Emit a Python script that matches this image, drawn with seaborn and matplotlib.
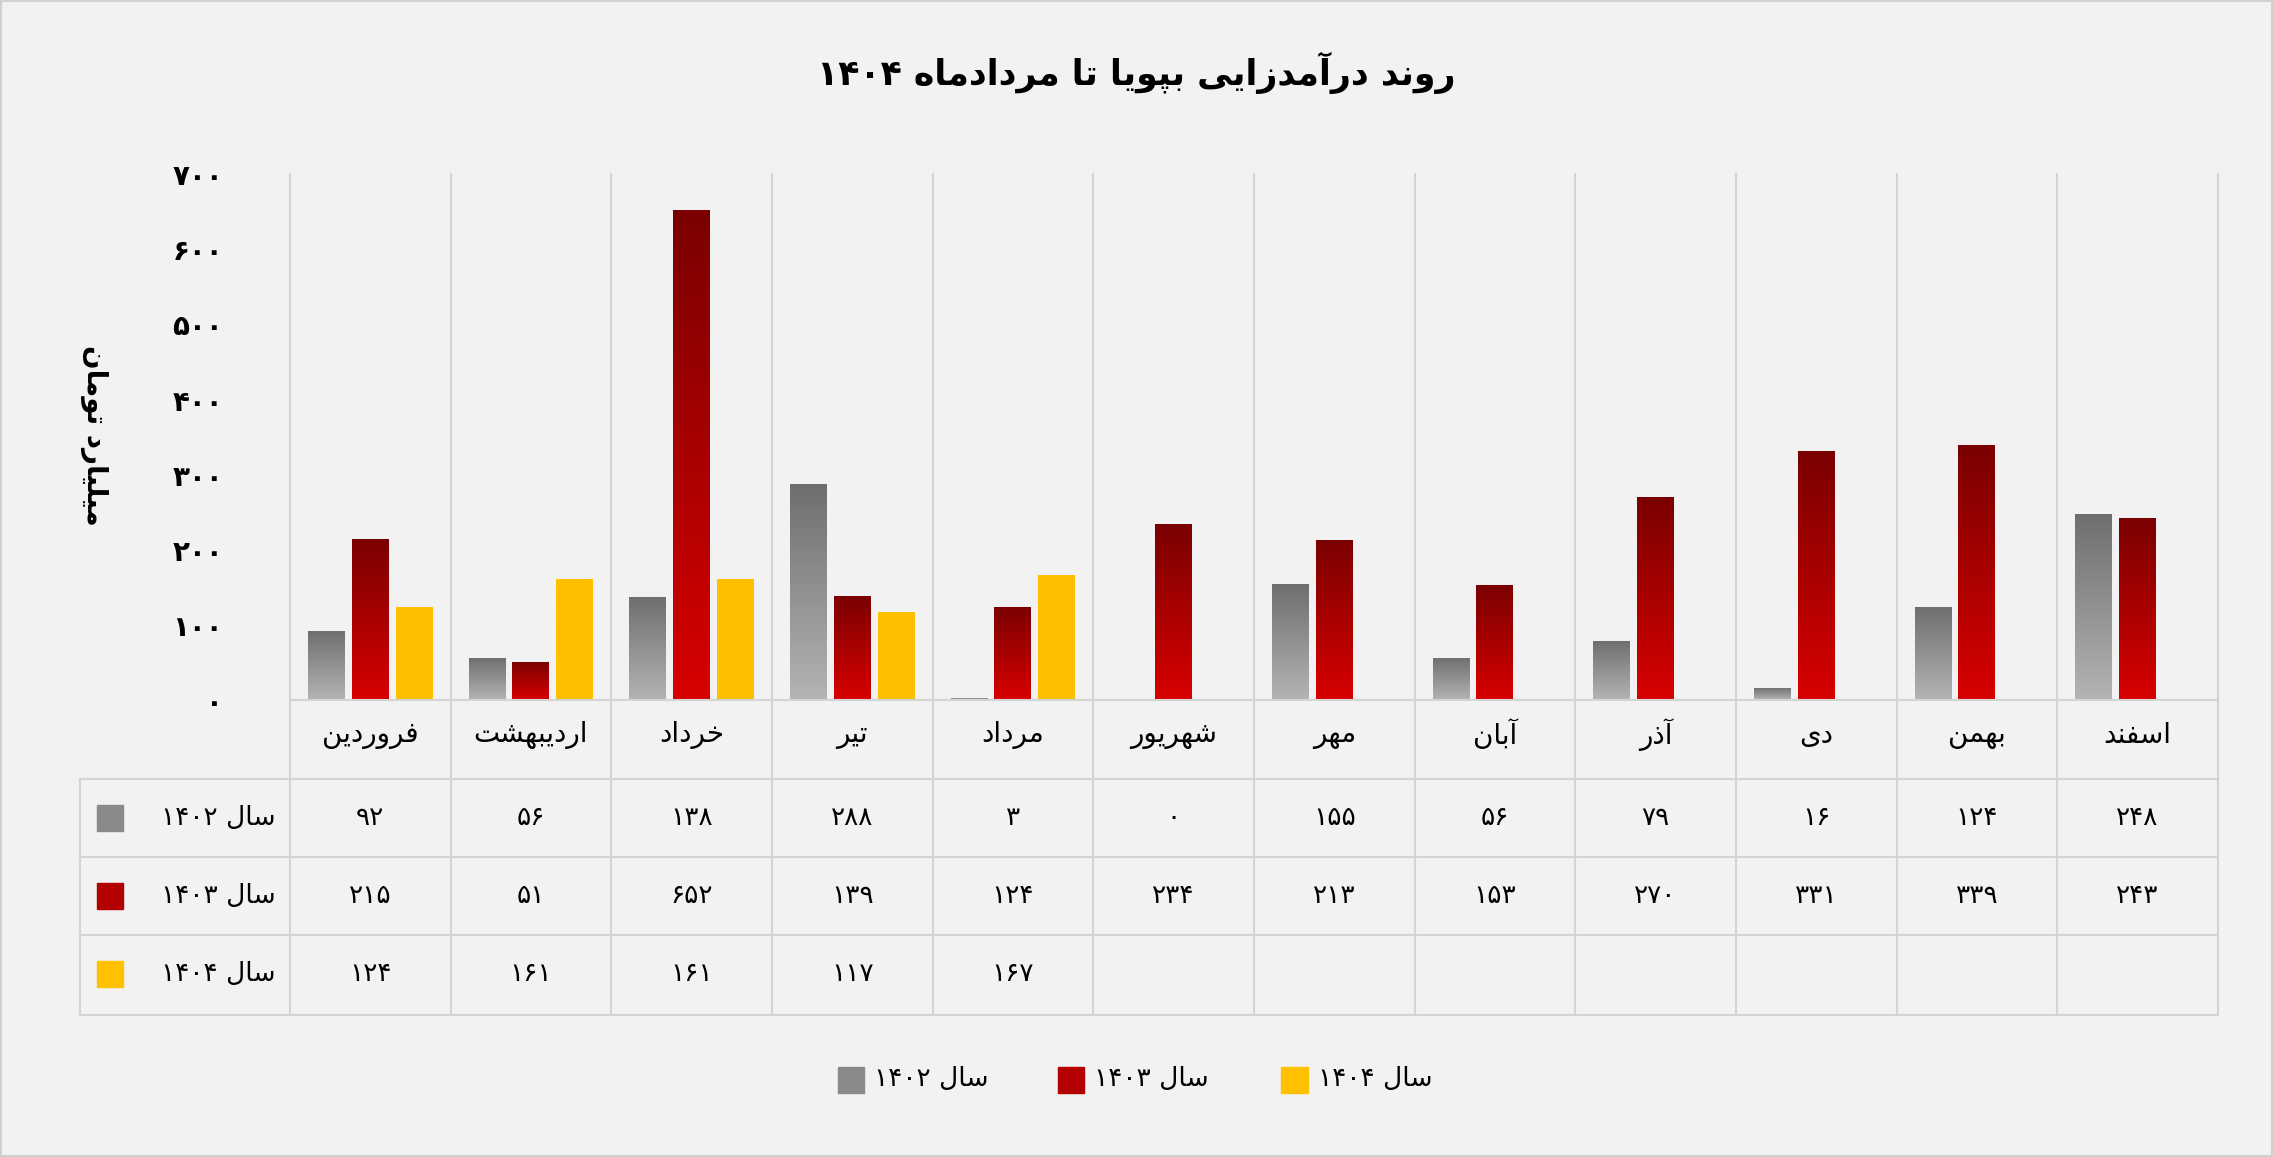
import numpy as np
import pandas as pd
import seaborn as sns
import matplotlib.pyplot as plt
from matplotlib.colors import LinearSegmentedColormap

# -------------------------------
# DATA
# -------------------------------
months = ["فروردین", "اردیبهشت", "خرداد", "تیر", "مرداد", "شهریور",
          "مهر", "آبان", "آذر", "دی", "بهمن", "اسفند"]
series = ["سال ۱۴۰۲", "سال ۱۴۰۳", "سال ۱۴۰۴"]
v1402 = [92, 56, 138, 288, 3, 0, 155, 56, 79, 16, 124, 248]
v1403 = [215, 51, 652, 139, 124, 234, 213, 153, 270, 331, 339, 243]
v1404 = [124, 161, 161, 117, 167, None, None, None, None, None, None, None]
yticks = [0, 100, 200, 300, 400, 500, 600, 700]
colors = ["#8a8a8a", "#b30000", "#ffc000"]
grads = [("#6e6e6e", "#b4b4b4"), ("#7a0000", "#d80000"), ("#ffc000", "#ffc000")]
title = "روند درآمدزایی بپویا تا مردادماه ۱۴۰۴"
ylabel = "میلیارد تومان"

# -------------------------------
# minimal arabic/persian shaping (no reshaper lib available)
# -------------------------------
FORMS = {
    "ا": ("\uFE8D", "\uFE8E", None, None), "آ": ("\uFE81", "\uFE82", None, None),
    "ب": ("\uFE8F", "\uFE90", "\uFE91", "\uFE92"), "پ": ("\uFB56", "\uFB57", "\uFB58", "\uFB59"),
    "ت": ("\uFE95", "\uFE96", "\uFE97", "\uFE98"), "ث": ("\uFE99", "\uFE9A", "\uFE9B", "\uFE9C"),
    "ج": ("\uFE9D", "\uFE9E", "\uFE9F", "\uFEA0"), "چ": ("\uFB7A", "\uFB7B", "\uFB7C", "\uFB7D"),
    "ح": ("\uFEA1", "\uFEA2", "\uFEA3", "\uFEA4"), "خ": ("\uFEA5", "\uFEA6", "\uFEA7", "\uFEA8"),
    "د": ("\uFEA9", "\uFEAA", None, None), "ذ": ("\uFEAB", "\uFEAC", None, None),
    "ر": ("\uFEAD", "\uFEAE", None, None), "ز": ("\uFEAF", "\uFEB0", None, None),
    "ژ": ("\uFB8A", "\uFB8B", None, None),
    "س": ("\uFEB1", "\uFEB2", "\uFEB3", "\uFEB4"), "ش": ("\uFEB5", "\uFEB6", "\uFEB7", "\uFEB8"),
    "ص": ("\uFEB9", "\uFEBA", "\uFEBB", "\uFEBC"), "ض": ("\uFEBD", "\uFEBE", "\uFEBF", "\uFEC0"),
    "ط": ("\uFEC1", "\uFEC2", "\uFEC3", "\uFEC4"), "ظ": ("\uFEC5", "\uFEC6", "\uFEC7", "\uFEC8"),
    "ع": ("\uFEC9", "\uFECA", "\uFECB", "\uFECC"), "غ": ("\uFECD", "\uFECE", "\uFECF", "\uFED0"),
    "ف": ("\uFED1", "\uFED2", "\uFED3", "\uFED4"), "ق": ("\uFED5", "\uFED6", "\uFED7", "\uFED8"),
    "ک": ("\uFB8E", "\uFB8F", "\uFB90", "\uFB91"), "گ": ("\uFB92", "\uFB93", "\uFB94", "\uFB95"),
    "ل": ("\uFEDD", "\uFEDE", "\uFEDF", "\uFEE0"), "م": ("\uFEE1", "\uFEE2", "\uFEE3", "\uFEE4"),
    "ن": ("\uFEE5", "\uFEE6", "\uFEE7", "\uFEE8"), "ه": ("\uFEE9", "\uFEEA", "\uFEEB", "\uFEEC"),
    "و": ("\uFEED", "\uFEEE", None, None), "ی": ("\uFBFC", "\uFBFD", "\uFBFE", "\uFBFF"),
}


def fa(s):
    out = []
    for i, c in enumerate(s):
        if c not in FORMS:
            out.append(c)
            continue
        prev = s[i - 1] if i > 0 else ""
        nxt = s[i + 1] if i + 1 < len(s) else ""
        join_prev = prev in FORMS and FORMS[prev][2] is not None
        join_next = nxt in FORMS and FORMS[c][2] is not None
        iso, fin, ini, med = FORMS[c]
        if join_prev and join_next:
            out.append(med)
        elif join_prev:
            out.append(fin)
        elif join_next:
            out.append(ini)
        else:
            out.append(iso)
    # visual order: reverse, keep digit runs LTR
    rev = "".join(out)[::-1]
    res, run = "", ""
    for c in rev:
        if "\u06F0" <= c <= "\u06F9":
            run += c
        else:
            res += run[::-1] + c
            run = ""
    return res + run[::-1]


def fa_num(n):
    return "".join(chr(0x06F0 + int(d)) for d in str(n))


# -------------------------------
# FIGURE
# -------------------------------
W, H = 1568, 798
bg = "#f2f2f2"
plt.rcParams["font.family"] = "DejaVu Sans"
fig = plt.figure(figsize=(22.73, 11.57), dpi=100, facecolor=bg)

x0, x1, ytop, ybase = 200, 1530, 120, 483
ax = fig.add_axes([x0 / W, 1 - ybase / H, (x1 - x0) / W, (ybase - ytop) / H])
ax.set_facecolor(bg)

df = pd.DataFrame({
    "month": months * 3,
    "series": sum([[s] * 12 for s in series], []),
    "value": v1402 + v1403 + v1404,
})
sns.barplot(data=df, x="month", y="value", hue="series", palette=colors,
            width=0.82, gap=0.16, order=months, hue_order=series, ax=ax,
            legend=False, saturation=1)

# vertical gradient fill for each bar, clipped to the bar patch
grad = np.linspace(0, 1, 256).reshape(-1, 1)
for k, cont in enumerate(ax.containers):
    cmap = LinearSegmentedColormap.from_list("g%d" % k, [grads[k][1], grads[k][0]])
    for p in cont.patches:
        h = p.get_height()
        if not np.isfinite(h) or h <= 0:
            continue
        x, w = p.get_x(), p.get_width()
        im = ax.imshow(grad, extent=(x, x + w, 0, h), origin="lower", aspect="auto",
                       cmap=cmap, zorder=p.get_zorder() + 0.1)
        im.set_clip_path(p)
ax.set_xlim(-0.5, 11.5)
ax.set_ylim(0, 700)

ax.set_yticks(yticks)
ax.set_yticklabels([fa_num(t) for t in yticks], fontsize=20, fontweight="bold")
ax.tick_params(axis="y", length=0, pad=48)
ax.set_xticks([])
ax.set_xlabel("")
ax.set_ylabel("")
for sp in ax.spines.values():
    sp.set_visible(False)

# overlay in pixel coords for grid, table, titles
ov = fig.add_axes([0, 0, 1, 1], facecolor="none")
ov.set_xlim(0, W)
ov.set_ylim(H, 0)
ov.axis("off")
lc = "#d4d4d4"
cw = (x1 - x0) / 12
for i in range(13):
    xx = x0 + i * cw
    ov.plot([xx, xx], [ytop, 700], color=lc, lw=1.5)
ov.plot([x0, x1], [ybase, ybase], color=lc, lw=1.5)
for yy in [537, 591, 645, 700]:
    ov.plot([55, x1], [yy, yy], color=lc, lw=1.5)
ov.plot([55, 55], [537, 700], color=lc, lw=1.5)

for i, m in enumerate(months):
    ov.text(x0 + (i + 0.5) * cw, 507, fa(m), ha="center", va="center", fontsize=20)

rows = [v1402, v1403, v1404]
for r, (vals, s, c) in enumerate(zip(rows, series, colors)):
    yc = 564 + r * 54
    ov.add_patch(plt.Rectangle((67, yc - 9), 18, 18, color=c))
    ov.text(190, yc, fa(s), ha="right", va="center", fontsize=19)
    for i, v in enumerate(vals):
        if v is not None:
            ov.text(x0 + (i + 0.5) * cw, yc, fa_num(v), ha="center", va="center", fontsize=19)

ov.text(W / 2, 50, fa(title), ha="center", va="center", fontsize=25, fontweight="bold")
ov.text(65, 300, fa(ylabel), ha="center", va="center", fontsize=20, rotation=270,
        fontweight="bold")

# legend
lx = [578, 730, 884]
for x, s, c in zip(lx, series, colors):
    ov.add_patch(plt.Rectangle((x, 736), 18, 18, color=c))
    ov.text(x + 25, 744, fa(s), ha="left", va="center", fontsize=19)

ov.add_patch(plt.Rectangle((1, 1), W - 2, H - 2, fill=False, ec="#d0d0d0", lw=1.5))
fig.savefig("out.png", dpi=100, facecolor=bg)
